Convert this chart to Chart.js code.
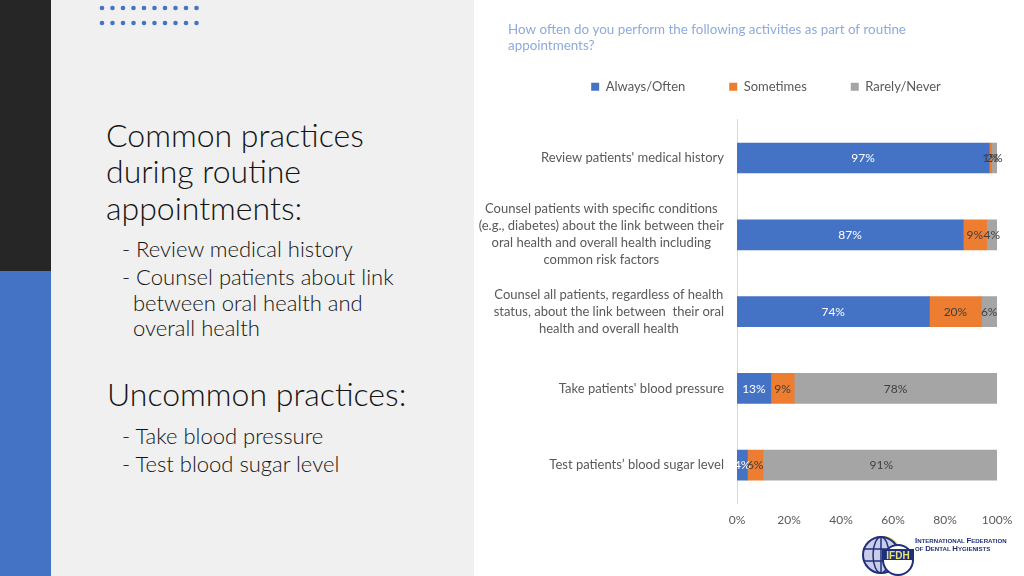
<!DOCTYPE html>
<html lang="en">
  <head>
    <meta charset="UTF-8">
    <title>Routine appointment practices</title>
    <style>
      body { margin: 0; width: 1024px; height: 576px; overflow: hidden; background: #fff; font-family: Lato, sans-serif; position: relative; }
      #dark { position: absolute; left: 0; top: 0; width: 51px; height: 271px; background: #262626; }
      #blue { position: absolute; left: 0; top: 271px; width: 51px; height: 305px; background: #4472c4; }
      #panel { position: absolute; left: 51px; top: 0; width: 423px; height: 576px; background: #f0f0f0; }
      .t { position: absolute; white-space: nowrap; color: #141414; font-weight: 300; line-height: 1.2; }
      .h { font-size: 32px; left: 106px; }
      .b { font-size: 22px; left: 122px; }
      #chart-box { position: absolute; left: 474px; top: 0; width: 550px; height: 576px; }
      #logo { position: absolute; left: 860px; top: 524px; }
    </style>
  </head>
  <body>
    <div id="dark"></div>
    <div id="blue"></div>
    <div id="panel"></div>
    <svg id="dots" style="position:absolute;left:0;top:0" width="220" height="32"></svg>

    <div class="t h" style="top:116px">Common practices</div>
    <div class="t h" style="top:152px">during routine</div>
    <div class="t h" style="top:189px">appointments:</div>
    <div class="t b" style="top:236px">- Review medical history</div>
    <div class="t b" style="top:264px">- Counsel patients about link</div>
    <div class="t b" style="top:290px;left:133px">between oral health and</div>
    <div class="t b" style="top:315px;left:133px">overall health</div>
    <div class="t h" style="top:375px;left:107px">Uncommon practices:</div>
    <div class="t b" style="top:423px">- Take blood pressure</div>
    <div class="t b" style="top:451px">- Test blood sugar level</div>

    <div id="chart-box">
      <canvas id="practices"></canvas>
    </div>

    <svg id="logo" width="164" height="52">
      <circle cx="23" cy="30" r="18" fill="#e8e27a"/>
      <circle cx="21" cy="31" r="18" fill="#c9cde9" stroke="#1f2f7a" stroke-width="2"/>
      <ellipse cx="21" cy="31" rx="8" ry="18" fill="none" stroke="#1f2f7a" stroke-width="1.5"/>
      <line x1="21" y1="13" x2="21" y2="49" stroke="#1f2f7a" stroke-width="1.5"/>
      <line x1="4" y1="25" x2="38" y2="25" stroke="#1f2f7a" stroke-width="1.5"/>
      <line x1="4" y1="37" x2="38" y2="37" stroke="#1f2f7a" stroke-width="1.5"/>
      <circle cx="38" cy="36" r="15" fill="#fff" stroke="#1f2f7a" stroke-width="2"/>
      <rect x="22" y="25" width="32" height="11" fill="#1f2f7a"/>
      <text x="38" y="34.5" text-anchor="middle" font-family="Liberation Sans, sans-serif" font-weight="bold" font-size="10" fill="#e8e27a">IFDH</text>
      <text x="55" y="18.5" font-family="Liberation Sans, sans-serif" font-weight="bold" font-size="6.1" fill="#1f2f7a"><tspan font-size="7.8">I</tspan>NTERNATIONAL <tspan font-size="7.8">F</tspan>EDERATION</text>
      <text x="55" y="26.5" font-family="Liberation Sans, sans-serif" font-weight="bold" font-size="6.1" fill="#1f2f7a">OF <tspan font-size="7.8">D</tspan>ENTAL <tspan font-size="7.8">H</tspan>YGIENISTS</text>
    </svg>

    <script src="https://cdn.jsdelivr.net/npm/chart.js@4/dist/chart.umd.min.js"></script>
    <script>
      // decoration dots, top left
      var dots = document.getElementById('dots');
      for (var r = 0; r < 2; r++) {
        for (var c = 0; c < 10; c++) {
          var d = document.createElementNS('http://www.w3.org/2000/svg', 'circle');
          d.setAttribute('cx', 102 + c * 10.5);
          d.setAttribute('cy', 8 + r * 15);
          d.setAttribute('r', 2.3);
          d.setAttribute('fill', '#4472c4');
          dots.appendChild(d);
        }
      }

      var categories = [
        ["Review patients' medical history"],
        ["Counsel patients with specific conditions", "(e.g., diabetes) about the link between their", "oral health and overall health including", "common risk factors"],
        ["Counsel all patients, regardless of health", "status, about the link between  their oral", "health and overall health"],
        ["Take patients' blood pressure"],
        ["Test patients\u2019 blood sugar level"]
      ];
      var alwaysOften = [97, 87, 74, 13, 4];
      var sometimes = [1, 9, 20, 9, 6];
      var rarelyNever = [2, 4, 6, 78, 91];
      var xTicks = [0, 20, 40, 60, 80, 100];

      var labelColor = '#595959';

      // category labels: each block centred on itself, block right edge near the axis
      var categoryLabels = {
        id: 'categoryLabels',
        afterDraw: function(chart) {
          var ctx = chart.ctx;
          var y = chart.scales.y;
          var right = chart.chartArea.left - 13;
          ctx.save();
          ctx.font = '13px Lato';
          ctx.fillStyle = labelColor;
          ctx.textAlign = 'center';
          ctx.textBaseline = 'middle';
          categories.forEach(function(lines, i) {
            var w = Math.max.apply(null, lines.map(function(l) { return ctx.measureText(l).width; }));
            var cx = right - w / 2;
            var cy = y.getPixelForValue(i);
            lines.forEach(function(l, k) {
              ctx.fillText(l, cx, cy + (k - (lines.length - 1) / 2) * 17);
            });
          });
          ctx.restore();
        }
      };

      // value labels in the middle of each segment
      var valueLabels = {
        id: 'valueLabels',
        afterDatasetsDraw: function(chart) {
          var ctx = chart.ctx;
          ctx.save();
          ctx.font = '12px Lato';
          ctx.textAlign = 'center';
          ctx.textBaseline = 'middle';
          chart.data.datasets.forEach(function(ds, di) {
            chart.getDatasetMeta(di).data.forEach(function(bar, i) {
              ctx.fillStyle = di == 0 ? '#ffffff' : '#404040';
              ctx.fillText(ds.data[i] + '%', (bar.x + bar.base) / 2, bar.y + 0.5);
            });
          });
          ctx.restore();
        }
      };

      Chart.defaults.font.family = 'Lato';
      Chart.defaults.color = labelColor;

      new Chart(document.getElementById('practices'), {
        type: 'bar',
        data: {
          labels: categories,
          datasets: [{
            label: 'Always/Often',
            data: alwaysOften,
            backgroundColor: '#4472c4'
          }, {
            label: 'Sometimes',
            data: sometimes,
            backgroundColor: '#ed7d31'
          }, {
            label: 'Rarely/Never',
            data: rarelyNever,
            backgroundColor: '#a5a5a5'
          }]
        },
        options: {
          indexAxis: 'y',
          responsive: true,
          maintainAspectRatio: false,
          animation: false,
          barThickness: 30,
          layout: { padding: { left: 34, right: 0, top: 0, bottom: 0 } },
          scales: {
            x: {
              stacked: true,
              min: 0,
              max: 100,
              afterBuildTicks: function(s) { s.ticks = xTicks.map(function(v) { return { value: v }; }); },
              ticks: {
                callback: function(v) { return v + '%'; },
                font: { size: 12 },
                padding: 9
              },
              grid: { display: false, drawTicks: false },
              border: { display: false },
              afterFit: function(s) { s.height = 72.5; }
            },
            xTop: {
              position: 'top',
              type: 'linear',
              display: true,
              ticks: { display: false },
              grid: { display: false, drawTicks: false },
              border: { display: false },
              afterFit: function(s) { s.height = 16.5; }
            },
            y: {
              stacked: true,
              ticks: { display: false },
              grid: { display: false, drawTicks: false },
              border: { display: true, color: '#d9d9d9' },
              afterFit: function(s) { s.width = 229; }
            },
            yRight: {
              position: 'right',
              type: 'category',
              display: true,
              ticks: { display: false },
              grid: { display: false, drawTicks: false },
              border: { display: false },
              afterFit: function(s) { s.width = 27; }
            }
          },
          plugins: {
            title: {
              display: true,
              align: 'start',
              text: ['How often do you perform the following activities as part of routine', 'appointments?'],
              color: '#8eaadb',
              font: { size: 13.4, weight: 'normal', lineHeight: 1.2 },
              padding: { top: 22, bottom: 12 }
            },
            legend: {
              display: true,
              position: 'top',
              labels: {
                boxWidth: 8,
                boxHeight: 8,
                padding: 14,
                font: { size: 13 },
                color: labelColor,
                // wider gaps between the legend entries, as in the original
                generateLabels: function(chart) {
                  var items = Chart.defaults.plugins.legend.labels.generateLabels(chart);
                  items.forEach(function(it, i) {
                    if (i < items.length - 1) it.text = it.text + '         ';
                  });
                  return items;
                }
              }
            },
            tooltip: { enabled: false }
          }
        },
        plugins: [valueLabels, categoryLabels]
      });
    </script>
  </body>
</html>
